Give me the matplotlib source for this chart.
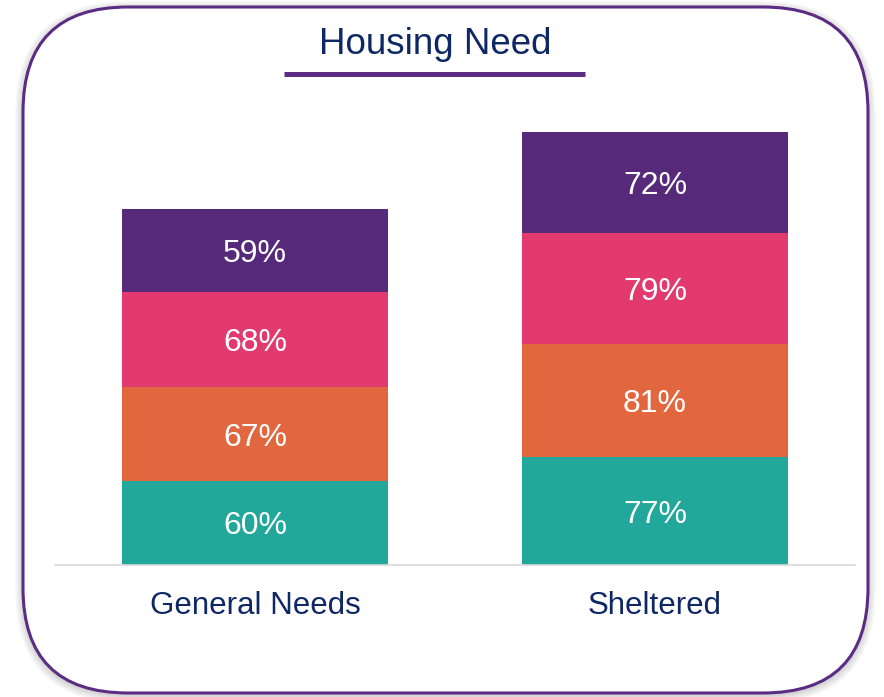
import matplotlib.pyplot as plt
from matplotlib.patches import FancyBboxPatch
import numpy as np

plt.rcParams['font.family'] = ['Liberation Sans', 'DejaVu Sans']

categories = ['General Needs', 'Sheltered']
# stacked from bottom to top
seg1 = [60, 77]
seg2 = [67, 81]
seg3 = [68, 79]
seg4 = [59, 72]
colors = ['#22A89A', '#E2663E', '#E23A6F', '#56297B']
navy = '#0F2764'

W, H = 884, 697
fig = plt.figure(figsize=(W / 100, H / 100), dpi=100)

# background frame with shadow
bg = fig.add_axes([0, 0, 1, 1])
bg.set_xlim(0, W)
bg.set_ylim(H, 0)
bg.axis('off')
for i, a in enumerate([0.05, 0.06, 0.07, 0.08, 0.09]):
    g = 8 - i * 1.6
    bg.add_patch(FancyBboxPatch((23 - g, 7 - g + 2), 845 + 2 * g, 686 + 2 * g,
                                boxstyle='round,pad=0,rounding_size=%d' % (105 + g),
                                fc='#808080', ec='none', alpha=a))
bg.add_patch(FancyBboxPatch((23, 7), 845, 686, boxstyle='round,pad=0,rounding_size=105',
                            fc='white', ec='#5B2C83', lw=2.2))
bg.text(435, 44, 'Housing Need', ha='center', va='center', fontsize=26.5, color=navy)
bg.plot([284, 585], [74, 74], color='#5B2C83', lw=3.6, solid_capstyle='butt')

ax = fig.add_axes([55 / W, (H - 565) / H, 800 / W, (565 - 103) / H])
ax.patch.set_alpha(0)
x = np.arange(len(categories))
bottom = np.zeros(len(categories))
for vals, c in zip([seg1, seg2, seg3, seg4], colors):
    ax.bar(x, vals, width=0.665, bottom=bottom, color=c)
    for xi, b, v in zip(x, bottom, vals):
        ax.text(xi, b + v / 2, f'{v}%', ha='center', va='center_baseline',
                color='white', fontsize=23)
    bottom += np.array(vals)

ax.set_xlim(-0.5, 1.5)
ax.set_ylim(0, 330)
for s in ['top', 'right', 'left']:
    ax.spines[s].set_visible(False)
ax.spines['bottom'].set_color('#D9D9D9')
ax.spines['bottom'].set_linewidth(1.2)
ax.set_yticks([])
ax.set_xticks(x)
ax.set_xticklabels(categories, fontsize=22.5, color=navy)
ax.tick_params(axis='x', length=0, pad=19)

fig.savefig('out.png', dpi=100)
